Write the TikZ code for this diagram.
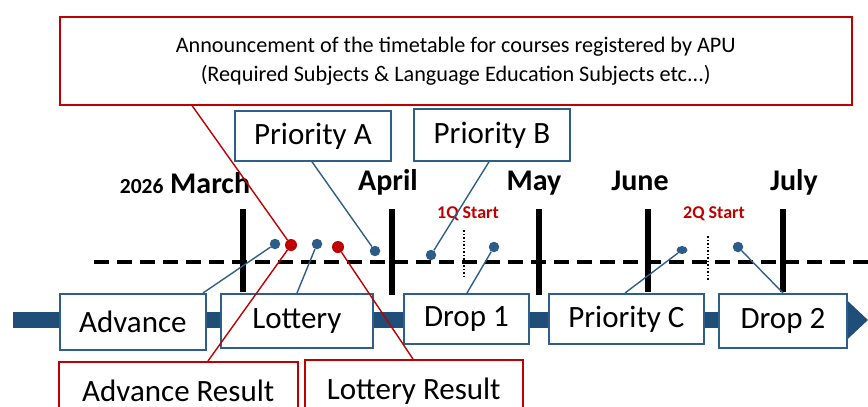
\documentclass[tikz,border=0pt]{standalone}
\usepackage{fontspec}
\setmainfont{Carlito}
\usetikzlibrary{arrows.meta,shapes.geometric}
\definecolor{bandblue}{HTML}{1F4E79}
\definecolor{boxblue}{HTML}{2E5F8A}
\definecolor{dotblue}{HTML}{2C5C88}
\definecolor{apured}{HTML}{C00000}
\begin{document}
\begin{tikzpicture}[x=1pt,y=-1pt,
    stepbox/.style ={draw=boxblue, line width=1.8pt, fill=white, inner sep=0pt,
      anchor=north west, font=\fontsize{31}{31}\selectfont},
    notebox/.style ={draw=apured, line width=1.5pt, fill=white, inner sep=0pt,
      anchor=north west, font=\fontsize{31}{31}\selectfont},
    bluedot/.style ={circle, fill=dotblue, inner sep=0pt, minimum size=10.5pt},
    reddot/.style ={circle, fill=apured, inner sep=0pt, minimum size=12pt},
    blueline/.style ={draw=boxblue, line width=1.4pt},
    redline/.style ={draw=apured, line width=1.4pt},
    month/.style ={anchor=base, font=\bfseries\fontsize{30}{30}\selectfont},
    qstart/.style ={anchor=base, text=apured, font=\bfseries\fontsize{18}{18}\selectfont}]
    \useasboundingbox[fill=white] (0,0) rectangle (868,407);
    % time axis
    \draw[bandblue, line width=16pt, -{Triangle[length=21pt,width=38pt]}] (13,320) -- (868,320);
    \draw[line width=3.5pt, dash pattern=on 15pt off 8pt] (94,262) -- (868,262);
    \foreach \x/\b in {243/292,392/295,539/295,648/292,783/292}
      \draw[line width=6pt] (\x,209) -- (\x,\b);
    \draw[line width=1.5pt, dotted] (464,230) -- (464,276);
    \draw[line width=1.5pt, dotted] (708,236) -- (708,281);
    % months
    \node[month] (mar) at (185,193) {{\fontsize{21.5}{21.5}\selectfont 2026} March};
    \node[month] (apr) at (388,190) {April};
    \node[month] (may) at (534,190) {May};
    \node[month] (jun) at (640,190) {June};
    \node[month] (jul) at (794,190) {July};
    \node[qstart] (q1) at (468,218) {1Q Start};
    \node[qstart] (q2) at (714,218) {2Q Start};
    % boxes
    \node[notebox, minimum width=792pt, minimum height=88pt, align=center,
      font=\fontsize{22.2}{29}\selectfont] (ann) at (59,16)
      {Announcement of the timetable for courses registered by APU\\
       (Required Subjects \& Language Education Subjects etc...)};
    \node[stepbox, minimum width=156pt, minimum height=50pt] (pa) at (234,110) {Priority A};
    \node[stepbox, minimum width=156pt, minimum height=52pt] (pb) at (413,108) {Priority B};
    \node[stepbox, minimum width=146pt, minimum height=56pt] (adv) at (59,293) {Advance};
    \node[stepbox, minimum width=152pt, minimum height=54pt] (lot) at (220,293) {Lottery};
    \node[stepbox, minimum width=125pt, minimum height=50pt] (dr1) at (403,293) {Drop 1};
    \node[stepbox, minimum width=155pt, minimum height=50pt] (pc) at (548,293) {Priority C};
    \node[stepbox, minimum width=128pt, minimum height=54pt] (dr2) at (718,293) {Drop 2};
    \node[notebox, minimum width=239pt, minimum height=58pt] (advres) at (58,361) {Advance Result};
    \node[notebox, minimum width=218pt, minimum height=62pt] (lotres) at (304,359) {Lottery Result};
    % dots
    \node[bluedot] (d1) at (275,244) {};
    \node[reddot] (r1) at (291,245) {};
    \node[bluedot] (d2) at (317,244) {};
    \node[reddot] (r2) at (338,247) {};
    \node[bluedot] (d3) at (375,251) {};
    \node[bluedot] (d4) at (431,255) {};
    \node[bluedot] (d5) at (494,247) {};
    \node[bluedot, ellipse, minimum width=11pt, minimum height=8pt] (d6) at (682,250) {};
    \node[bluedot] (d7) at (738,247) {};
    % connectors
    \draw[redline] ([xshift=133pt]ann.south west) -- (r1);
    \draw[redline] ([xshift=150pt]advres.north west) -- (r1);
    \draw[redline] ([xshift=109pt]lotres.north west) -- (r2);
    \draw[blueline] ([xshift=78pt]pa.south west) -- (d3);
    \draw[blueline] ([xshift=76pt]pb.south west) -- (d4);
    \draw[blueline] ([xshift=144pt]adv.north west) -- (d1);
    \draw[blueline] ([xshift=77pt]lot.north west) -- (d2);
    \draw[blueline] ([xshift=64pt]dr1.north west) -- (d5);
    \draw[blueline] ([xshift=77pt]pc.north west) -- (d6);
    \draw[blueline] ([xshift=65pt]dr2.north west) -- (d7);
  \end{tikzpicture}
\end{document}
